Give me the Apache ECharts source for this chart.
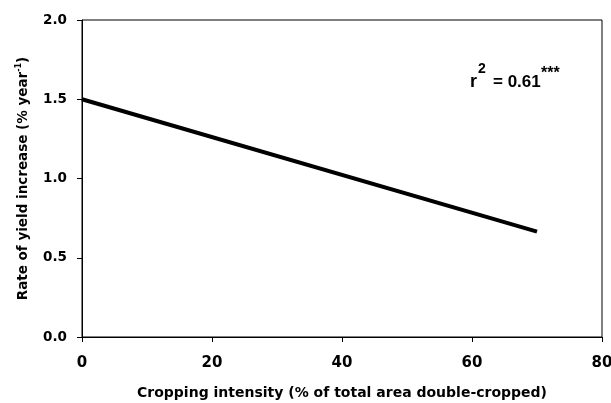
<!DOCTYPE html>
<html><head><meta charset="utf-8">
<script src="https://cdn.jsdelivr.net/npm/echarts@6/dist/echarts.min.js"></script>
<style>html,body{margin:0;padding:0;background:#fff}#c{width:611px;height:403px}</style>
</head><body><div id="c"></div>
<script>
var xValues = [0, 70];
var yValues = [1.5, 0.665];
var xTicks = [0, 20, 40, 60, 80];
var yTicks = [0.0, 0.5, 1.0, 1.5, 2.0];
var xTitle = 'Cropping intensity (% of total area double-cropped)';
var yTitle = 'Rate of yield increase (% year';
var annR = 'r', annSup = '2', annRest = '= 0.61', annStars = '***';

var chart = echarts.init(document.getElementById('c'));
var wide = '"DejaVu Sans", sans-serif';
var arial = 'Arial, "Liberation Sans", sans-serif';
function txt(x, y, s, size) {
  return {type: 'text', x: x, y: y, style: {text: s, fontFamily: arial, fontWeight: 'bold', fontSize: size, fill: '#000', verticalAlign: 'middle', align: 'left'}};
}
chart.setOption({
  animation: false,
  grid: {left: 82, right: 9, top: 20, bottom: 66, outerBoundsMode: 'none', containLabel: false, show: true, borderColor: '#000', borderWidth: 1},
  xAxis: {
    type: 'value', min: xTicks[0], max: xTicks[xTicks.length-1], interval: 20,
    name: xTitle, nameLocation: 'middle', nameGap: 49,
    nameTextStyle: {fontFamily: wide, fontWeight: 'bold', fontSize: 14, color: '#000'},
    axisLine: {show: true, lineStyle: {color: '#000', width: 1}},
    axisTick: {show: true, length: 5, inside: false, lineStyle: {color: '#000'}},
    axisLabel: {fontFamily: wide, fontWeight: 'bold', fontSize: 15, color: '#000', margin: 19, formatter: function(v){return String(v);}},
    splitLine: {show: false}
  },
  yAxis: {
    type: 'value', min: yTicks[0], max: yTicks[yTicks.length-1], interval: 0.5,
    name: '{m|' + yTitle + '}{s|-1}{m|)}', nameLocation: 'middle', nameGap: 50, nameRotate: 90,
    nameTextStyle: {fontFamily: wide, fontWeight: 'bold', fontSize: 13.5, color: '#000',
      rich: {m: {fontFamily: wide, fontWeight: 'bold', fontSize: 13.5, color: '#000'},
             s: {fontFamily: wide, fontWeight: 'bold', fontSize: 8, color: '#000', padding: [0, 0, 9, 0]}}},
    axisLine: {show: true, lineStyle: {color: '#000', width: 1}},
    axisTick: {show: true, length: 5, inside: false, lineStyle: {color: '#000'}},
    axisLabel: {fontFamily: wide, fontWeight: 'bold', fontSize: 13.5, color: '#000', margin: 15, formatter: function(v){return v.toFixed(1);}},
    splitLine: {show: false}
  },
  series: [{
    type: 'line', data: xValues.map(function(x, i){return [x, yValues[i]];}),
    showSymbol: false, symbol: 'none', lineStyle: {color: '#000', width: 4}
  }],
  graphic: [
    txt(470, 82, annR, 18),
    txt(478, 69, annSup, 14),
    txt(493, 82, annRest, 17),
    txt(541, 74, annStars, 16)
  ]
});
</script></body></html>
